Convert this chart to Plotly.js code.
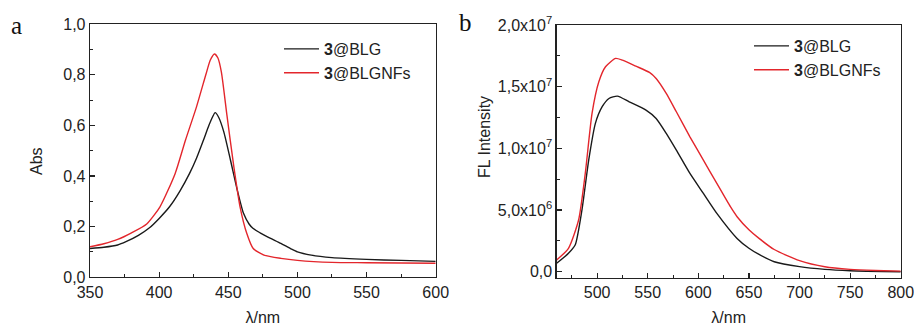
<!DOCTYPE html>
<html>
<head>
<meta charset="utf-8">
<script src="https://cdn.plot.ly/plotly-3.0.1.min.js"></script>
<style>html,body{margin:0;padding:0;background:#fff;}#chart{width:914px;height:326px;}</style>
</head>
<body>
<div id="chart"></div>
<script>
// Panel a: absorbance
const absBLG_x = [350,360,370,376,385,393,400,407.5,415,422,427,432,436,438.5,440.5,443,446.7,451.6,456.5,461,465,468,473,478,488,495,500,510,525,550,575,600];
const absBLG_y = [0.113,0.118,0.127,0.14,0.165,0.195,0.232,0.278,0.34,0.41,0.47,0.541,0.60,0.632,0.65,0.632,0.575,0.462,0.344,0.252,0.21,0.192,0.175,0.16,0.133,0.113,0.10,0.087,0.077,0.070,0.066,0.062];
const absNF_x = [350,360,370,380,391,400.6,411.6,419,427,434,437,440,442.5,445,449,454,458.5,463.4,468,475.8,488,500,525,550,600];
const absNF_y = [0.12,0.132,0.149,0.175,0.21,0.278,0.41,0.541,0.673,0.805,0.858,0.882,0.866,0.81,0.64,0.437,0.278,0.172,0.113,0.087,0.074,0.066,0.058,0.057,0.055];
// Panel b: fluorescence
const flBLG_x = [460,471.7,478.3,485,491.7,498.3,505,511.7,520,531.7,548.3,558.3,568.3,578.3,591.7,605,618.3,638.3,650,660,675,700,725,750,800];
const flBLG_y = [6.8e5,1.49e6,2.16e6,5.0e6,9.05e6,1.203e7,1.338e7,1.405e7,1.424e7,1.378e7,1.311e7,1.243e7,1.122e7,9.86e6,7.97e6,6.35e6,4.73e6,2.70e6,1.9e6,1.4e6,8.1e5,4.1e5,1.9e5,8e4,0];
const flNF_x = [460,471.7,481.7,488.3,495,501.7,508.3,518.3,525,538.3,551.7,558.3,568.3,578.3,591.7,605,618.3,631.7,638.3,650,660,675,700,725,750,775,800];
const flNF_y = [9.5e5,1.89e6,4.19e6,7.97e6,1.284e7,1.54e7,1.662e7,1.73e7,1.716e7,1.667e7,1.616e7,1.567e7,1.446e7,1.297e7,1.094e7,9.05e6,7.16e6,5.27e6,4.46e6,3.4e6,2.7e6,1.8e6,9e5,4e5,1.9e5,1e5,5e4];
const flTickVals = [0,5e6,1e7,1.5e7,2e7];
const flTickText = ['0,0','5,0x10<sup>6</sup>','1,0x10<sup>7</sup>','1,5x10<sup>7</sup>','2,0x10<sup>7</sup>'];
const seriesNames = ['<b>3</b>@BLG','<b>3</b>@BLGNFs'];

const BLACK = '#1a1a1a', RED = '#e3262c';
const FAM = 'Liberation Sans, Arial, sans-serif';
const font = {family: FAM, size: 16, color: '#222'};
const lineStyle = (c) => ({color: c, width: 1.4, shape: 'spline', smoothing: 0.6});

const traces = [
  {x: absBLG_x, y: absBLG_y, name: seriesNames[0], mode: 'lines', line: lineStyle(BLACK), xaxis: 'x', yaxis: 'y', legend: 'legend'},
  {x: absNF_x, y: absNF_y, name: seriesNames[1], mode: 'lines', line: lineStyle(RED), xaxis: 'x', yaxis: 'y', legend: 'legend'},
  {x: flBLG_x, y: flBLG_y, name: seriesNames[0], mode: 'lines', line: lineStyle(BLACK), xaxis: 'x2', yaxis: 'y2', legend: 'legend2'},
  {x: flNF_x, y: flNF_y, name: seriesNames[1], mode: 'lines', line: lineStyle(RED), xaxis: 'x2', yaxis: 'y2', legend: 'legend2'}
];

const axBase = {showline: true, mirror: true, linecolor: '#222', linewidth: 1.3, ticks: 'inside', ticklen: 5, tickwidth: 1.2, tickcolor: '#222', showgrid: false, zeroline: false, tickfont: font, ticklabeloverflow: 'allow'};
const minorBase = {ticks: 'inside', ticklen: 3, tickwidth: 1, tickcolor: '#222'};
const titleFont = {family: FAM, size: 16, color: '#222'};

const layout = {
  width: 914, height: 326,
  margin: {l: 0, r: 0, t: 0, b: 0},
  paper_bgcolor: '#fff', plot_bgcolor: '#fff',
  separators: ', ',
  font: font,
  showlegend: true,
  xaxis: Object.assign({}, axBase, {domain: [0.0985, 0.4767], range: [350, 600], tickvals: [350,400,450,500,550,600], anchor: 'y',
    minor: Object.assign({}, minorBase, {tick0: 350, dtick: 25}),
    title: {text: 'λ/nm', font: titleFont, standoff: 12}}),
  yaxis: Object.assign({}, axBase, {domain: [0.150, 0.926], range: [0, 1.0], tickvals: [0,0.2,0.4,0.6,0.8,1.0], tickformat: '.1f', anchor: 'x',
    minor: Object.assign({}, minorBase, {tick0: 0, dtick: 0.1})}),
  xaxis2: Object.assign({}, axBase, {domain: [0.609, 0.9855], range: [460, 800], tickvals: [500,550,600,650,700,750,800], anchor: 'y2',
    minor: Object.assign({}, minorBase, {tick0: 475, dtick: 50}),
    title: {text: 'λ/nm', font: titleFont, standoff: 12}}),
  yaxis2: Object.assign({}, axBase, {domain: [0.148, 0.923], range: [-4.9e5, 2e7], tickmode: 'array', tickvals: flTickVals, ticktext: flTickText, anchor: 'x2',
    minor: Object.assign({}, minorBase, {tick0: 2.5e6, dtick: 5e6})}),
  legend: {x: 279/914, y: 1 - 32/326, xanchor: 'left', yanchor: 'top', bgcolor: 'rgba(0,0,0,0)', font: titleFont, tracegroupgap: 0, itemwidth: 35},
  legend2: {x: 749/914, y: 1 - 29/326, xanchor: 'left', yanchor: 'top', bgcolor: 'rgba(0,0,0,0)', font: titleFont, tracegroupgap: 0, itemwidth: 35},
  annotations: [
    {text: 'a', xref: 'paper', yref: 'paper', x: 16/914, y: 1 - 25/326, showarrow: false, xanchor: 'center', yanchor: 'middle', font: {family: 'Liberation Serif, Times New Roman, serif', size: 25, color: '#111'}},
    {text: 'b', xref: 'paper', yref: 'paper', x: 466/914, y: 1 - 22/326, showarrow: false, xanchor: 'center', yanchor: 'middle', font: {family: 'Liberation Serif, Times New Roman, serif', size: 25, color: '#111'}},
    {text: 'Abs', xref: 'paper', yref: 'paper', x: 36/914, y: 1 - 161/326, showarrow: false, textangle: -90, xanchor: 'center', yanchor: 'middle', font: titleFont},
    {text: 'FL Intensity', xref: 'paper', yref: 'paper', x: 484/914, y: 1 - 137/326, showarrow: false, textangle: -90, xanchor: 'center', yanchor: 'middle', font: titleFont}
  ]
};

Plotly.newPlot('chart', traces, layout, {displayModeBar: false, staticPlot: true});
</script>
</body>
</html>
